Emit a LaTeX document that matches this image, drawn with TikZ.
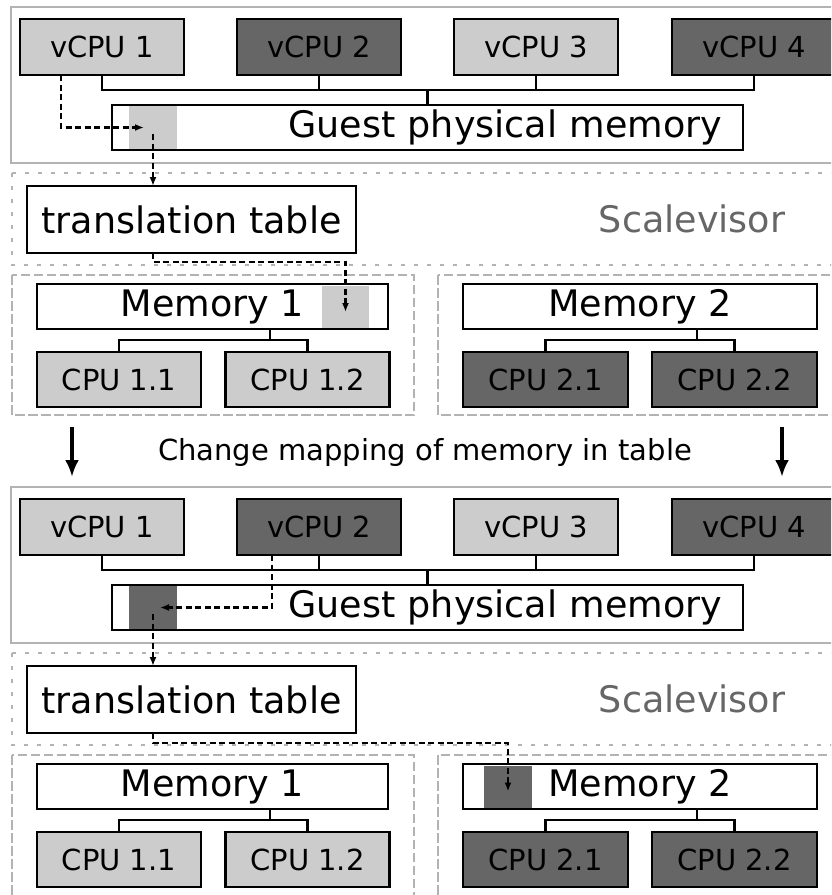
\documentclass[tikz,border=0pt]{standalone}
\usepackage{fontspec}
\setmainfont{DejaVu Sans}
\usetikzlibrary{arrows.meta}
\definecolor{lightf}{HTML}{CCCCCC}
\definecolor{darkf}{HTML}{666666}
\definecolor{frame}{HTML}{B3B3B3}
\definecolor{labelgray}{HTML}{666666}
\tikzset{
 box/.style={draw=black, line width=2.2pt, inner sep=0pt, outer sep=0pt},
 smallfont/.style={font=\fontsize{29}{34}\selectfont},
 bigfont/.style={font=\fontsize{36.5}{42}\selectfont},
 lightbox/.style={box, smallfont, fill=lightf, minimum height=56pt, minimum width=164pt},
 darkbox/.style={box, smallfont, fill=darkf, minimum height=56pt, minimum width=164pt},
 cpulight/.style={box, smallfont, fill=lightf, minimum height=55pt, minimum width=164pt},
 cpudark/.style={box, smallfont, fill=darkf, minimum height=55pt, minimum width=165pt},
 membox/.style={box, bigfont, fill=white, minimum height=45pt},
 hl/.style={inner sep=0pt, outer sep=0pt, draw=none},
 bus/.style={line width=2.2pt},
 conn/.style={line width=2.2pt, dash pattern=on 6pt off 3.5pt, -{Latex[length=9pt,width=7pt]}},
 panel/.style={draw=frame, line width=2pt},
 svframe/.style={draw=frame, line width=2pt, dash pattern=on 4pt off 9pt},
 domframe/.style={draw=frame, line width=2pt, dash pattern=on 9.5pt off 3.5pt},
 bigarrow/.style={line width=4.5pt, -{Latex[length=17pt,width=14pt]}},
}
\begin{document}
\begin{tikzpicture}[x=1pt,y=-1pt]
\useasboundingbox (0,0) rectangle (831,895);
\clip (0,0) rectangle (831,895);

% ================= first half =================
\draw[panel] (11,7) rectangle (845,163);
\draw[svframe] (12,173) rectangle (845,265);
\draw[domframe] (12,275) rectangle (414,415);
\draw[domframe] (438,275) rectangle (845,415);

\node[lightbox] (v1) at (102,47) {vCPU 1};
\node[darkbox] (v2) at (319,47) {vCPU 2};
\node[lightbox] (v3) at (536,47) {vCPU 3};
\node[darkbox] (v4) at (754,47) {vCPU 4};
\node[membox, minimum width=631pt, text width=589pt, align=right] (gm) at (427.5,127.5) {Guest physical memory};
\node[hl, fill=lightf, minimum width=48pt, minimum height=43pt] (h1) at (153,127.5) {};

\draw[bus] (v1.south) -- ++(0,15) -| (v4.south);
\draw[bus] (v2.south) -- ++(0,15) (v3.south) -- ++(0,15) (gm.north) -- ++(0,-15);

\node[box, bigfont, fill=white, minimum width=329pt, minimum height=67pt] (tt) at (191.5,219.5) {translation table};
\node[bigfont, text=labelgray, inner sep=0pt] (sv) at (692,219) {Scalevisor};

\node[membox, minimum width=351pt] (m1) at (212.5,306.5) {Memory 1};
\node[hl, fill=lightf, minimum width=47pt, minimum height=42pt] (h2) at (345.5,307) {};
\node[cpulight] (c11) at (119,379.5) {CPU 1.1};
\node[cpulight] (c12) at (307.5,379.5) {CPU 1.2};
\draw[bus] (c11.north) -- ++(0,-12) -| (c12.north);
\draw[bus] ([xshift=57.5pt]m1.south) -- ++(0,11);

\node[membox, minimum width=354pt] (m2) at (640,306.5) {Memory 2};
\node[cpudark] (c21) at (545.5,379.5) {CPU 2.1};
\node[cpudark] (c22) at (734.5,379.5) {CPU 2.2};
\draw[bus] (c21.north) -- ++(0,-12) -| (c22.north);
\draw[bus] ([xshift=57pt]m2.south) -- ++(0,11);

\draw[conn] ([xshift=-41pt]v1.south) |- ([xshift=-9pt]h1.center);
\draw[conn] ([yshift=-6.5pt]h1.center) -- (h1.center |- tt.north);
\draw[conn] (h1.center |- tt.south) -- ++(0,9) -| ([yshift=-5pt]h2.center);

% ================= transition =================
\coordinate (a1s) at (72,427);
\coordinate (a1e) at (72,477);
\coordinate (a2s) at (782,427);
\coordinate (a2e) at (782,477);
\draw[bigarrow] (a1s) -- (a1e);
\draw[bigarrow] (a2s) -- (a2e);
\node[smallfont, inner sep=0pt] (cm) at (425,452) {Change mapping of memory in table};

% ================= second half =================
\draw[panel] (11,487) rectangle (845,643);
\draw[svframe] (12,653) rectangle (845,745);
\draw[domframe] (12,755) rectangle (414,900);
\draw[domframe] (438,755) rectangle (845,900);

\node[lightbox] (v5) at (102,527) {vCPU 1};
\node[darkbox] (v6) at (319,527) {vCPU 2};
\node[lightbox] (v7) at (536,527) {vCPU 3};
\node[darkbox] (v8) at (754,527) {vCPU 4};
\node[membox, minimum width=631pt, text width=589pt, align=right] (gm2) at (427.5,607.5) {Guest physical memory};
\node[hl, fill=darkf, minimum width=48pt, minimum height=43pt] (h3) at (153,607.5) {};

\draw[bus] (v5.south) -- ++(0,15) -| (v8.south);
\draw[bus] (v6.south) -- ++(0,15) (v7.south) -- ++(0,15) (gm2.north) -- ++(0,-15);

\node[box, bigfont, fill=white, minimum width=329pt, minimum height=67pt] (tt2) at (191.5,699.5) {translation table};
\node[bigfont, text=labelgray, inner sep=0pt] (sv2) at (692,699) {Scalevisor};

\node[membox, minimum width=351pt] (m3) at (212.5,786.5) {Memory 1};
\node[cpulight] (c31) at (119,859.5) {CPU 1.1};
\node[cpulight] (c32) at (307.5,859.5) {CPU 1.2};
\draw[bus] (c31.north) -- ++(0,-12) -| (c32.north);
\draw[bus] ([xshift=57.5pt]m3.south) -- ++(0,11);

\node[membox, minimum width=354pt] (m4) at (640,786.5) {Memory 2};
\node[hl, fill=darkf, minimum width=48pt, minimum height=42pt] (h4) at (508,786.5) {};
\node[cpudark] (c41) at (545.5,859.5) {CPU 2.1};
\node[cpudark] (c42) at (734.5,859.5) {CPU 2.2};
\draw[bus] (c41.north) -- ++(0,-12) -| (c42.north);
\draw[bus] ([xshift=57pt]m4.south) -- ++(0,11);

\draw[conn] ([xshift=-47pt]v6.south) |- ([xshift=7pt]h3.center);
\draw[conn] ([yshift=-6.5pt]h3.center) -- (h3.center |- tt2.north);
\draw[conn] (h3.center |- tt2.south) -- ++(0,10) -| ([yshift=-5pt]h4.center);
\end{tikzpicture}
\end{document}
